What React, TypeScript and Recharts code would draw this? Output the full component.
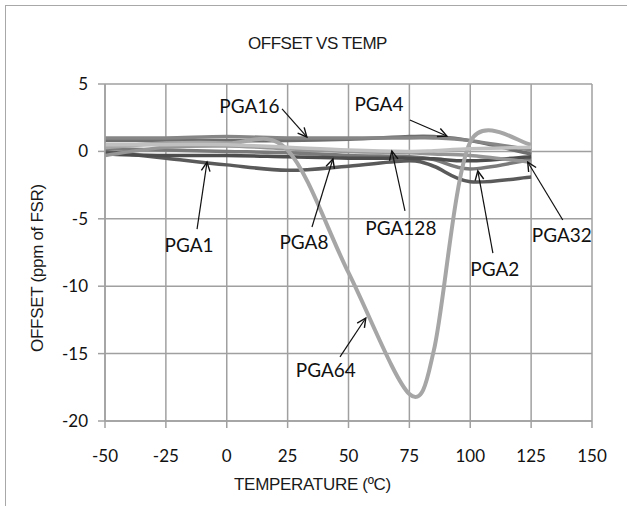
import React from "react";
import {
  LineChart,
  Line,
  XAxis,
  YAxis,
  CartesianGrid,
  ReferenceDot,
  ReferenceLine,
} from "recharts";

// temperatures (ºC) where offsets were read
const temps = [-50, -25, 0, 25, 50, 75, 85, 100, 125];

// offset in ppm of FSR, one list per gain
const pga1 = [0.0, -0.5, -1.0, -1.4, -1.1, -0.7, -1.1, -2.25, -1.9];
const pga2 = [0.2, 0.1, 0.0, -0.1, -0.3, -0.4, -0.6, -1.3, -0.6];
const pga4 = [0.8, 0.8, 0.8, 0.8, 0.9, 1.1, 1.1, 0.8, -0.2];
const pga8 = [-0.2, -0.3, -0.3, -0.4, -0.5, -0.5, -0.55, -0.7, -0.4];
const pga16 = [1.0, 1.0, 1.1, 1.0, 1.0, 1.0, 1.0, 0.8, 0.1];
const pga32 = [-0.3, 0.3, 0.4, 0.2, 0.0, -0.1, -0.2, -0.3, -0.8];
const pga64 = [0.3, 0.6, 0.6, 0.1, -9.0, -18.0, -14.8, 0.7, 0.5];
const pga128 = [0.5, 0.5, 0.5, 0.3, 0.1, 0.0, 0.05, 0.2, 0.3];

const xTicks = [-50, -25, 0, 25, 50, 75, 100, 125, 150];
const yTicks = [-20, -15, -10, -5, 0, 5];

const series = [
  { key: "PGA1", values: pga1, color: "#5a5a5a", width: 3.5 },
  { key: "PGA2", values: pga2, color: "#7a7a7a", width: 3.5 },
  { key: "PGA4", values: pga4, color: "#6e6e6e", width: 3.5 },
  { key: "PGA8", values: pga8, color: "#4d4d4d", width: 3.5 },
  { key: "PGA16", values: pga16, color: "#868686", width: 3.5 },
  { key: "PGA32", values: pga32, color: "#969696", width: 3.5 },
  { key: "PGA64", values: pga64, color: "#a6a6a6", width: 4 },
  { key: "PGA128", values: pga128, color: "#c0c0c0", width: 3.5 },
];

const data = temps.map((t, i) => {
  const row: Record<string, number> = { temp: t };
  series.forEach((s) => (row[s.key] = s.values[i]));
  return row;
});

// callouts: text centre, arrow tail, arrow head (data units)
const callouts = [
  { text: "PGA16", tx: 9.3, ty: 3.37, x1: 22.7, y1: 3.15, x2: 32.9, y2: 1.07 },
  { text: "PGA4", tx: 62.5, ty: 3.52, x1: 75.2, y1: 2.33, x2: 90.4, y2: 1.14 },
  { text: "PGA1", tx: -15.5, ty: -6.94, x1: -12.2, y1: -5.76, x2: -8.1, y2: -0.79 },
  { text: "PGA8", tx: 31.7, ty: -6.65, x1: 35.0, y1: -5.61, x2: 43.6, y2: -0.56 },
  { text: "PGA128", tx: 71.5, ty: -5.68, x1: 73.2, y1: -4.42, x2: 67.8, y2: 0.03 },
  { text: "PGA2", tx: 110.1, ty: -8.65, x1: 109.3, y1: -7.54, x2: 103.1, y2: -1.45 },
  { text: "PGA32", tx: 137.6, ty: -6.2, x1: 138, y1: -5.09, x2: 123.6, y2: -0.79 },
  { text: "PGA64", tx: 40.7, ty: -16.2, x1: 46.5, y1: -15.24, x2: 57.1, y2: -12.36 },
];

// Excel-like smoothed line: bezier with 1/6 tangents, arms capped on short segments
const excelCurve = (context: any) => {
  let pts: number[][] = [];
  return {
    areaStart() {},
    areaEnd() {},
    lineStart() {
      pts = [];
    },
    point(x: number, y: number) {
      pts.push([+x, +y]);
    },
    lineEnd() {
      const n = pts.length;
      if (!n) return;
      context.moveTo(pts[0][0], pts[0][1]);
      const dist = (a: number[], b: number[]) => Math.hypot(a[0] - b[0], a[1] - b[1]);
      for (let i = 0; i < n - 1; i++) {
        const p0 = pts[Math.max(i - 1, 0)];
        const p1 = pts[i];
        const p2 = pts[i + 1];
        const p3 = pts[Math.min(i + 2, n - 1)];
        const d12 = dist(p1, p2);
        const d02 = dist(p0, p2);
        const d13 = dist(p1, p3);
        let f1 = 1 / 6;
        let f2 = 1 / 6;
        if (d02 > 0 && d02 / 6 >= d12 / 2) f1 = d12 / d02 / 2;
        if (d13 > 0 && d13 / 6 >= d12 / 2) f2 = d12 / d13 / 2;
        context.bezierCurveTo(
          p1[0] + (p2[0] - p0[0]) * f1,
          p1[1] + (p2[1] - p0[1]) * f1,
          p2[0] - (p3[0] - p1[0]) * f2,
          p2[1] - (p3[1] - p1[1]) * f2,
          p2[0],
          p2[1]
        );
      }
    },
  };
};

const Arrow = (props: any) => {
  const { x1, y1, x2, y2 } = props;
  const ang = Math.atan2(y2 - y1, x2 - x1);
  const len = 10;
  const spread = 0.45;
  const ax = x2 - len * Math.cos(ang - spread);
  const ay = y2 - len * Math.sin(ang - spread);
  const bx = x2 - len * Math.cos(ang + spread);
  const by = y2 - len * Math.sin(ang + spread);
  return (
    <g>
      <line x1={x1} y1={y1} x2={x2} y2={y2} stroke="#111" strokeWidth={1.2} />
      <polyline
        points={`${ax},${ay} ${x2},${y2} ${bx},${by}`}
        fill="none"
        stroke="#111"
        strokeWidth={1.4}
      />
    </g>
  );
};

const tickStyle = { fontFamily: "Lato", fontSize: 17, fill: "#111" };
const axisTitle = {
  position: "absolute" as const,
  fontFamily: "'Liberation Sans', Arial, sans-serif",
  fontSize: 17,
  color: "#1a1a1a",
  whiteSpace: "nowrap" as const,
};

export default function App() {
  return (
    <div
      style={{
        position: "absolute",
        left: 0,
        top: 0,
        width: 627,
        height: 506,
        background: "#fff",
        overflow: "hidden",
      }}
    >
      <div
        style={{
          position: "absolute",
          left: 5,
          top: 5,
          width: 640,
          height: 520,
          borderTop: "1.5px solid #a8a8a8",
          borderLeft: "1.5px solid #a8a8a8",
        }}
      />
      <div
        style={{
          ...axisTitle,
          left: 0,
          width: 635,
          top: 34,
          textAlign: "center",
          letterSpacing: -0.5,
        }}
      >
        OFFSET VS TEMP
      </div>
      <div
        style={{
          ...axisTitle,
          left: 0,
          width: 625,
          top: 475,
          textAlign: "center",
          letterSpacing: -0.3,
        }}
      >
        TEMPERATURE (ºC)
      </div>
      <div
        style={{
          ...axisTitle,
          left: 38,
          top: 268,
          transform: "translate(-50%, -50%) rotate(-90deg)",
          letterSpacing: -0.3,
        }}
      >
        OFFSET (ppm of FSR)
      </div>
      <LineChart
        width={627}
        height={506}
        data={data}
        margin={{ top: 84, right: 35, bottom: 45, left: 45 }}
        style={{ position: "absolute", left: 0, top: 0 }}
      >
        <CartesianGrid stroke="#a0a0a0" strokeWidth={1.5} />
        <XAxis
          dataKey="temp"
          type="number"
          domain={[-50, 150]}
          ticks={xTicks}
          height={40}
          tickSize={7}
          tickMargin={22}
          tick={tickStyle}
          stroke="#a0a0a0"
          strokeWidth={1.5}
          allowDataOverflow
        />
        <YAxis
          type="number"
          domain={[-20, 5]}
          ticks={yTicks}
          width={60}
          tickSize={7}
          tickMargin={10}
          tick={tickStyle}
          stroke="#a0a0a0"
          strokeWidth={1.5}
          allowDataOverflow
        />
        {series.map((s) => (
          <Line
            key={s.key}
            dataKey={s.key}
            type={excelCurve as any}
            stroke={s.color}
            strokeWidth={s.width}
            dot={false}
            activeDot={false}
            isAnimationActive={false}
          />
        ))}
        {callouts.map((c) => (
          <ReferenceLine
            key={c.text + "-arrow"}
            segment={[
              { x: c.x1, y: c.y1 },
              { x: c.x2, y: c.y2 },
            ]}
            ifOverflow="visible"
            shape={Arrow}
          />
        ))}
        {callouts.map((c) => (
          <ReferenceDot
            key={c.text}
            x={c.tx}
            y={c.ty}
            r={0}
            ifOverflow="visible"
            shape={(p: any) => (
              <text
                x={p.cx}
                y={p.cy}
                textAnchor="middle"
                dominantBaseline="central"
                fontFamily="Lato"
                fontSize={19}
                fill="#111"
              >
                {c.text}
              </text>
            )}
          />
        ))}
      </LineChart>
    </div>
  );
}
